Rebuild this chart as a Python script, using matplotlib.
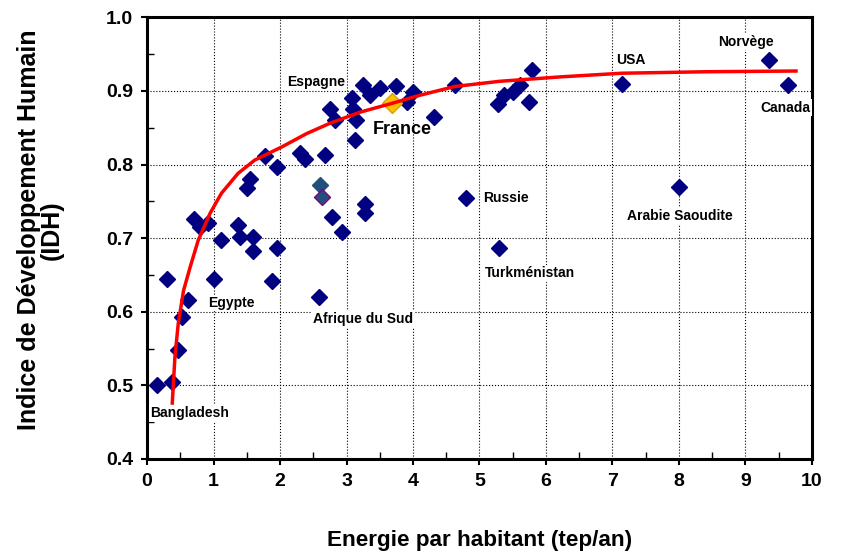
import numpy as np
import matplotlib.pyplot as plt

plt.rcParams['font.family'] = ['Liberation Sans', 'DejaVu Sans']
plt.rcParams['font.weight'] = 'bold'

# Pays : énergie par habitant (tep/an) et IDH
energie = [0.15, 0.38, 0.46, 0.53, 0.61, 0.30, 1.01, 0.70, 0.80, 0.91,
           1.12, 1.37, 1.40, 1.60, 1.60, 1.95, 1.88, 2.58, 1.55, 1.51,
           1.77, 1.95, 2.30, 2.38, 2.68, 2.78, 2.93, 3.28, 3.28, 3.13,
           2.75, 2.83, 3.08, 3.10, 3.15, 3.25, 3.35, 3.50, 3.75, 3.91,
           4.00, 4.31, 4.63, 5.28, 5.37, 5.51, 5.61, 5.75, 5.79, 7.14,
           9.35, 9.64, 8.00, 4.79, 5.29]
idh = [0.500, 0.505, 0.548, 0.593, 0.616, 0.644, 0.644, 0.726, 0.715, 0.720,
       0.698, 0.718, 0.702, 0.702, 0.682, 0.687, 0.642, 0.620, 0.781, 0.768,
       0.811, 0.797, 0.815, 0.808, 0.813, 0.729, 0.708, 0.747, 0.734, 0.833,
       0.876, 0.860, 0.890, 0.876, 0.860, 0.908, 0.894, 0.904, 0.906, 0.885,
       0.899, 0.865, 0.908, 0.882, 0.894, 0.899, 0.908, 0.885, 0.929, 0.910,
       0.942, 0.908, 0.770, 0.755, 0.686]

# deux points de couleur différente
autres_x = [2.60, 2.63]
autres_y = [0.772, 0.756]

france_x, france_y = 3.68, 0.884

# courbe de tendance
courbe_x = [0.38, 0.42, 0.47, 0.55, 0.65, 0.77, 0.95, 1.12, 1.37, 1.62,
            2.03, 2.40, 2.75, 3.20, 3.68, 4.10, 4.63, 5.30, 6.21, 7.14,
            8.40, 9.76]
courbe_y = [0.476, 0.539, 0.584, 0.629, 0.661, 0.697, 0.734, 0.761, 0.788, 0.806,
            0.824, 0.842, 0.856, 0.871, 0.883, 0.894, 0.906, 0.913, 0.919, 0.924,
            0.926, 0.927]

etiquettes = ['Bangladesh', 'Egypte', 'Afrique du Sud', 'Espagne', 'Russie',
              'Turkménistan', 'Arabie Saoudite', 'USA', 'Norvège', 'Canada']
etiq_x = [0.05, 0.92, 2.50, 2.10, 5.05, 5.08, 8.02, 7.06, 8.59, 9.22]
etiq_y = [0.462, 0.612, 0.590, 0.912, 0.754, 0.652, 0.730, 0.942, 0.967, 0.877]
etiq_ha = ['left', 'left', 'left', 'left', 'left', 'left', 'center', 'left', 'left', 'left']

fig = plt.figure(figsize=(8.41, 5.52), dpi=100)
ax = fig.add_axes([0.1748, 0.1685, 0.7907, 0.8002])

ax.plot(energie, idh, 'D', color='#000080', markersize=8.5, zorder=3)
ax.plot(autres_x[0], autres_y[0], 'D', color='#21507D', markersize=8.5, zorder=3)
ax.plot(autres_x[1], autres_y[1], 'D', color='#21507D', markeredgecolor='#800080',
        markersize=8.5, zorder=3)
ax.plot(france_x, france_y, 'D', color='#FFC000', markeredgecolor='#D9A000',
        markersize=10, zorder=4)
ax.plot(courbe_x, courbe_y, '-', color='#FF0000', linewidth=2.5, zorder=5)

for txt, x, y, ha in zip(etiquettes, etiq_x, etiq_y, etiq_ha):
    ax.text(x, y, txt, fontsize=10, fontweight='bold', ha=ha, va='center', zorder=6,
            bbox=dict(facecolor='white', edgecolor='none', pad=1))
ax.text(3.39, 0.847, 'France', fontsize=13, fontweight='bold', va='center', zorder=6)

ax.set_xlim(0, 10)
ax.set_ylim(0.4, 1.0)
ax.set_xticks(np.arange(0, 11, 1))
ax.set_yticks(np.arange(0.4, 1.01, 0.1))
ax.set_yticklabels(['0.4', '0.5', '0.6', '0.7', '0.8', '0.9', '1.0'])
ax.set_xticks(np.arange(0.5, 10, 1), minor=True)
ax.set_yticks(np.arange(0.45, 1.0, 0.1), minor=True)
ax.tick_params(which='major', direction='out', length=4, width=1.5,
               labelsize=14, pad=6)
ax.tick_params(which='minor', direction='in', length=5, width=1)
for lab in ax.get_xticklabels() + ax.get_yticklabels():
    lab.set_fontweight('bold')

ax.grid(True, which='major', color='black', linestyle=':', linewidth=0.8, zorder=0)
ax.set_axisbelow(True)
for s in ax.spines.values():
    s.set_linewidth(2.2)

ax.set_xlabel('Energie par habitant (tep/an)', fontsize=16.2, fontweight='bold',
              labelpad=29)
# titre de l'axe y sur deux lignes
fig.text(29 / 841, 1 - 230 / 552, 'Indice de Développement Humain', rotation=90,
         fontsize=18, fontweight='bold', ha='center', va='center')
fig.text(52 / 841, 1 - 230 / 552, '(IDH)', rotation=90,
         fontsize=18, fontweight='bold', ha='center', va='center')

fig.savefig('out.png', dpi=100)
